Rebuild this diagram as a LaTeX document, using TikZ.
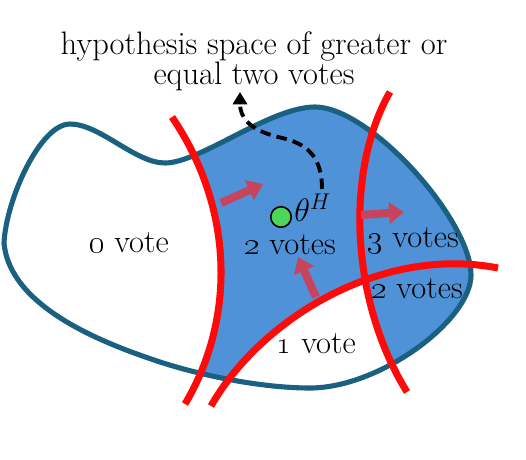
\RequirePackage{fix-cm}
\documentclass[tikz,border=0pt]{standalone}
\usetikzlibrary{arrows.meta}
\definecolor{blobline}{HTML}{1A6080}
\definecolor{blobfill}{HTML}{4F92D8}
\definecolor{cutred}{HTML}{FF0A0A}
\definecolor{pusharrow}{HTML}{C8445E}
\definecolor{dotgreen}{HTML}{4CD65A}
\tikzset{
  lbl/.style={font=\fontsize{18.5}{20}\selectfont, inner sep=0pt, anchor=base},
  cutline/.style={draw=cutred, line width=4pt},
  pusharr/.style={draw=pusharrow, line width=4.6pt, -{Triangle[width=12pt,length=8.5pt]}},
}
\begin{document}
\begin{tikzpicture}[x=0.02cm,y=-0.02cm]
\useasboundingbox (0,0) rectangle (526,459);
% blob interior
\fill[white] (4,243) .. controls (6,200) and (40,124) .. (70,124) .. controls (100,124) and (135,163) .. (165,163) .. controls (200,163) and (270,107) .. (315,107) .. controls (370,107) and (471,220) .. (471,275) .. controls (471,320) and (380,388) .. (310,388) .. controls (260,388) and (200,375) .. (160,362) .. controls (112,346) and (10,310) .. (4,243) -- cycle;
\begin{scope}
  \clip (4,243) .. controls (6,200) and (40,124) .. (70,124) .. controls (100,124) and (135,163) .. (165,163) .. controls (200,163) and (270,107) .. (315,107) .. controls (370,107) and (471,220) .. (471,275) .. controls (471,320) and (380,388) .. (310,388) .. controls (260,388) and (200,375) .. (160,362) .. controls (112,346) and (10,310) .. (4,243) -- cycle;
  \fill[blobfill] (150,0) -- (172,117) .. controls (235,210) and (235,320) .. (185,404) -- (180,470) -- (540,470) -- (540,0) -- cycle;
  \begin{scope}
    \clip (190,470) -- (211,406) .. controls (260,320) and (380,245) .. (498,268) -- (540,275) -- (540,470) -- cycle;
    \fill[white] (0,0) -- (395,0) -- (390,92) .. controls (345,170) and (350,300) .. (407,392) -- (415,470) -- (0,470) -- cycle;
  \end{scope}
\end{scope}
\draw[blobline, line width=2.9pt] (4,243) .. controls (6,200) and (40,124) .. (70,124) .. controls (100,124) and (135,163) .. (165,163) .. controls (200,163) and (270,107) .. (315,107) .. controls (370,107) and (471,220) .. (471,275) .. controls (471,320) and (380,388) .. (310,388) .. controls (260,388) and (200,375) .. (160,362) .. controls (112,346) and (10,310) .. (4,243) -- cycle;
% cut lines
\draw[cutline] (172,117) .. controls (235,210) and (235,320) .. (185,404);
\draw[cutline] (390,92) .. controls (345,170) and (350,300) .. (407,392);
\draw[cutline] (211,406) .. controls (260,320) and (380,245) .. (498,268);
% push arrows
\coordinate (a1s) at (221,203);
\coordinate (a1e) at (263,184);
\coordinate (a2s) at (361,215);
\coordinate (a2e) at (404,212);
\coordinate (a3s) at (316,297);
\coordinate (a3e) at (298,257);
\draw[pusharr] (a1s) -- (a1e);
\draw[pusharr] (a2s) -- (a2e);
\draw[pusharr] (a3s) -- (a3e);
% labels
\node[lbl] (title) at (254,55) {hypothesis space of greater or};
\node[lbl] (title2) at (254,85) {equal two votes};
\node[lbl] (zero) at (129,252) {\oldstylenums{0} vote};
\node[lbl] (two) at (290,254) {\oldstylenums{2} votes};
\node[lbl] (three) at (413,247) {\oldstylenums{3} votes};
\node[lbl] (tworight) at (417,298) {\oldstylenums{2} votes};
\node[lbl] (one) at (316,353) {\oldstylenums{1} vote};
\node[circle, fill=dotgreen, draw=black, line width=0.9pt, minimum size=0.41cm, inner sep=0pt] (dot) at (281,217) {};
\node[lbl, anchor=base west] (theta) at (294,221) {$\theta^{H}$};
% dashed connector
\coordinate (ds) at (322,189);
\coordinate (de) at (240,92);
\draw[line width=2.2pt, dash pattern=on 6pt off 3.5pt, -{Triangle[width=8pt,length=7pt]}] (ds) .. controls (322,150) and (300,142) .. (278,137) .. controls (250,130) and (240,118) .. (de);
\end{tikzpicture}
\end{document}
